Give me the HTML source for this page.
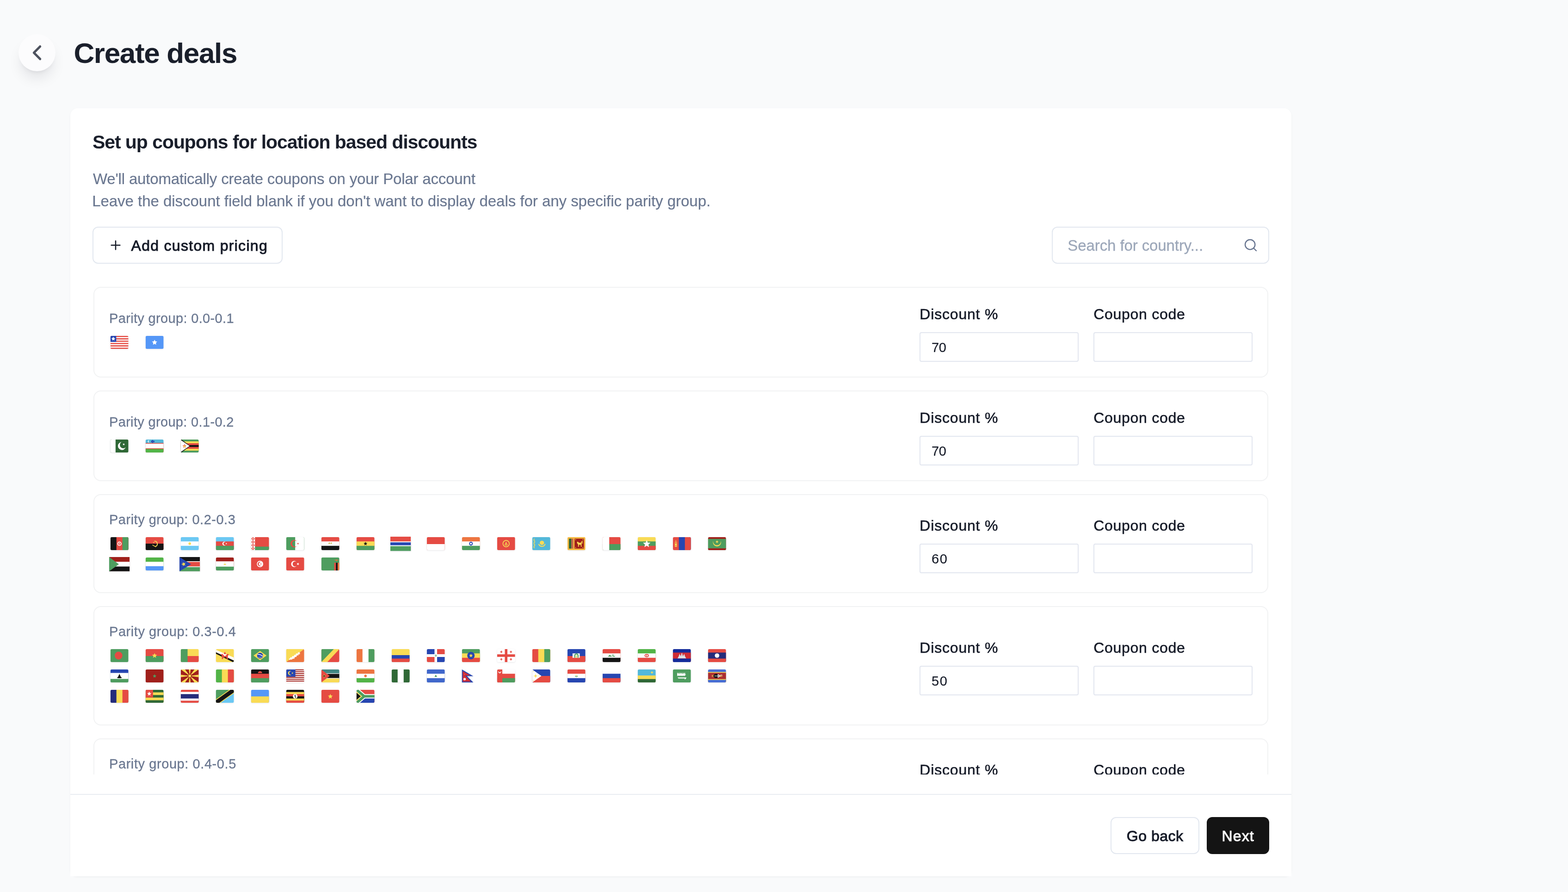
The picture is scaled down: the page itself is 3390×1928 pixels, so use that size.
<!DOCTYPE html>
<html lang="en">
<head>
<meta charset="utf-8">
<title>Create deals</title>
<style>
*{box-sizing:border-box}
html,body{margin:0;padding:0}
body{width:3390px;height:1928px;overflow:hidden;background:#f9fafb;font-family:"Liberation Sans", sans-serif;position:relative;color:#0f172a}
button{font:inherit;margin:0;padding:0;text-align:left;color:inherit;cursor:pointer}
.t{position:absolute;margin:0;white-space:nowrap;font-weight:400;display:block}
.abs{position:absolute}
.back{position:absolute;left:40px;top:74px;width:80px;height:80px;border-radius:50%;background:#fcfcfd;box-shadow:0 20px 30px -6px rgba(15,23,42,.10),0 8px 12px -8px rgba(15,23,42,.10)}
.back svg{position:absolute;left:0;top:0}
.card{position:absolute;left:152px;top:234px;width:2640px;height:1660px;background:#fff;border-radius:16px;box-shadow:0 2px 4px rgba(15,23,42,.045)}
.btn{position:absolute;height:80px;border:2px solid #e2e7ef;border-radius:12px;background:#fff}
.btn.dark{background:#141414;border-color:#141414}
.list{position:absolute;left:0;top:0;width:2640px;height:1440px;overflow:hidden}
.row{position:absolute;left:50px;width:2540px;border:2px solid #f1f2f3;border-radius:16px;background:#fff}
.inp{position:absolute;width:344px;height:64px;border:2px solid #e2e6ef;border-radius:4px;background:#fff}
.fl{position:absolute;filter:drop-shadow(0 1px 1.5px rgba(15,23,42,.1))}
.fl svg{position:absolute;width:44px;height:32px;overflow:visible}
.foot{position:absolute;left:0;top:1482px;width:2640px;height:178px;background:#fff;border-top:2px solid #e9edf2}
</style>
</head>
<body>
<svg width="0" height="0" style="position:absolute" aria-hidden="true"><defs><clipPath id="fc"><rect width="21" height="15" rx="1.6" ry="1.6"/></clipPath></defs></svg>
<header>
<a class="back" aria-label="Back"><svg width="80" height="80" viewBox="0 0 80 80" fill="none" stroke="#4d525e" stroke-width="5" stroke-linecap="round" stroke-linejoin="round"><path d="M46.7 26.5 33.3 40l13.4 13.5"/></svg></a>
<h1 class="t" style="left:159.42px;top:76.00px;font-size:62px;line-height:78px;letter-spacing:-1.337px;color:#1a1f2b;font-weight:700;">Create deals</h1>
</header>
<main class="card">
<h2 class="t" style="left:47.91px;top:48.00px;font-size:41px;line-height:51px;letter-spacing:-1.060px;color:#1a1f2b;font-weight:700;">Set up coupons for location based discounts</h2>
<p class="t" style="left:48.93px;top:132.00px;font-size:33px;line-height:41px;letter-spacing:-0.177px;color:#6a7790;-webkit-text-stroke:0.2px #6a7790;">We'll automatically create coupons on your Polar account</p>
<p class="t" style="left:47.16px;top:180.00px;font-size:33px;line-height:41px;letter-spacing:-0.031px;color:#6a7790;-webkit-text-stroke:0.2px #6a7790;">Leave the discount field blank if you don't want to display deals for any specific parity group.</p>
<button type="button" class="btn" style="left:48px;top:256px;width:411px"><svg class="abs" style="left:32px;top:22px" width="32" height="32" viewBox="0 0 24 24" fill="none" stroke="#161b28" stroke-width="1.9" stroke-linecap="round"><path d="M5 12h14M12 5v14"/></svg><span class="t" style="left:81.54px;top:19.00px;font-size:32px;line-height:40px;letter-spacing:1.296px;color:#161b28;-webkit-text-stroke:1.0px #161b28;">Add custom pricing</span></button>
<div class="btn" role="search" style="left:2122px;top:256px;width:470px"><span class="t" style="left:32.33px;top:18.00px;font-size:33px;line-height:41px;letter-spacing:-0.095px;color:#9ca7b9;-webkit-text-stroke:0.3px #9ca7b9;">Search for country...</span><svg class="abs" style="left:412px;top:22px" width="32" height="32" viewBox="0 0 24 24" fill="none" stroke="#687590" stroke-width="1.8" stroke-linecap="round" stroke-linejoin="round"><circle cx="11" cy="11" r="8"/><path d="m21 21-4.3-4.3"/></svg></div>
<div class="list">
<section class="row" style="top:386px;height:196px">
<span class="t" style="left:32.00px;top:48.00px;font-size:29px;line-height:36px;letter-spacing:0.338px;color:#6a7790;-webkit-text-stroke:0.3px #6a7790;">Parity group: 0.0-0.1</span>
<div class="fl" style="left:32px;top:103px"><svg style="left:0px;top:0px" viewBox="0 0 44 32" role="img" aria-label="LR"><g transform="translate(2.7 1) scale(1.8571 1.8667)" clip-path="url(#fc)"><path fill="#fff" d="M0 0h21v15h-21z"/><path fill="#e54b43" d="M0 0h21v1.36h-21zM0 2.73h21v1.36h-21zM0 5.45h21v1.36h-21zM0 8.18h21v1.36h-21zM0 10.91h21v1.36h-21zM0 13.64h21v1.36h-21z"/><path fill="#2646b1" d="M0 0h6.8v7h-6.8z"/><path fill="#fff" d="M3.4 1L4.11 2.43L5.68 2.66L4.54 3.77L4.81 5.34L3.4 4.6L1.99 5.34L2.26 3.77L1.12 2.66L2.69 2.43z"/></g></svg><svg style="left:76px;top:0px" viewBox="0 0 44 32" role="img" aria-label="SO"><g transform="translate(2.7 1) scale(1.8571 1.8667)" clip-path="url(#fc)"><path fill="#5597f7" d="M0 0h21v15h-21z"/><path fill="#fff" d="M10.5 4.4L11.44 6.31L13.54 6.61L12.02 8.09L12.38 10.19L10.5 9.2L8.62 10.19L8.98 8.09L7.46 6.61L9.56 6.31z"/></g></svg></div>
<label class="t" style="left:1784.36px;top:37.00px;font-size:32px;line-height:40px;letter-spacing:0.806px;color:#161b28;-webkit-text-stroke:0.6px #161b28;">Discount %</label><div class="inp" style="left:1784px;top:96px"><span class="t" style="left:24.00px;top:13.00px;font-size:29px;line-height:36px;letter-spacing:-0.283px;color:#161b28;-webkit-text-stroke:0.2px #161b28;">70</span></div><label class="t" style="left:2160.23px;top:37.00px;font-size:32px;line-height:40px;letter-spacing:0.717px;color:#161b28;-webkit-text-stroke:0.6px #161b28;">Coupon code</label><div class="inp" style="left:2160px;top:96px"></div>
</section>
<section class="row" style="top:610px;height:196px">
<span class="t" style="left:32.00px;top:48.00px;font-size:29px;line-height:36px;letter-spacing:0.330px;color:#6a7790;-webkit-text-stroke:0.3px #6a7790;">Parity group: 0.1-0.2</span>
<div class="fl" style="left:32px;top:103px"><svg style="left:0px;top:0px" viewBox="0 0 44 32" role="img" aria-label="PK"><g transform="translate(2.7 1) scale(1.8571 1.8667)" clip-path="url(#fc)"><path fill="#2f6836" d="M0 0h21v15h-21z"/><path fill="#fff" d="M0 0h6v15h-6z"/><path fill="#fff" d="M17.77 8.94A4.6 4.6 0 1 1 12.95 2.92A3.9 3.9 0 1 0 17.77 8.94z"/><path fill="#fff" d="M15.98 4.28L16.02 5.25L16.9 5.65L16 5.99L15.89 6.95L15.28 6.19L14.34 6.38L14.87 5.58L14.4 4.74L15.33 4.99z"/></g></svg><svg style="left:76px;top:0px" viewBox="0 0 44 32" role="img" aria-label="UZ"><g transform="translate(2.7 1) scale(1.8571 1.8667)" clip-path="url(#fc)"><path fill="#53b8d9" d="M0 0h21v15h-21z"/><path fill="#e54b43" d="M0 4h21v11h-21z"/><path fill="#fff" d="M0 4.8h21v10.2h-21z"/><path fill="#e54b43" d="M0 10.2h21v4.8h-21z"/><path fill="#52b447" d="M0 11h21v4h-21z"/><path fill="#fff" d="M4.59 3.3A1.3 1.3 0 1 1 4.59 1.1A1.1 1.1 0 1 0 4.59 3.3z"/><path fill="#2646b1" d="M6.1 2.3l1.2-1.2 1.2 1.2-1.2 1.2zM8.3 2.3l1.2-1.2 1.2 1.2-1.2 1.2zM7.2 1.2l.9-.8.9.8-.9.8zM7.2 3.4l.9-.8.9.8-.9.8z"/></g></svg><svg style="left:152px;top:0px" viewBox="0 0 44 32" role="img" aria-label="ZW"><g transform="translate(2.7 1) scale(1.8571 1.8667)" clip-path="url(#fc)"><path fill="#4e9d5f" d="M0 0h21v15h-21z"/><path fill="#f9db55" d="M0 2.14h21v10.72h-21z"/><path fill="#e54b43" d="M0 4.29h21v6.42h-21z"/><path fill="#151515" d="M0 6.43h21v2.14h-21z"/><path fill="#151515" d="M0 0L.8 0L11.2 7.5L.8 15L0 15z"/><path fill="#fff" d="M0 .6L0 14.4L10.3 7.5z"/><path fill="#e54b43" d="M4.4 5.1L5.06 6.69L6.78 6.83L5.47 7.95L5.87 9.62L4.4 8.72L2.93 9.62L3.33 7.95L2.02 6.83L3.74 6.69z"/><circle cx="4.4" cy="7.9" r="1.1" fill="#f9db55"/></g></svg></div>
<label class="t" style="left:1784.36px;top:37.00px;font-size:32px;line-height:40px;letter-spacing:0.806px;color:#161b28;-webkit-text-stroke:0.6px #161b28;">Discount %</label><div class="inp" style="left:1784px;top:96px"><span class="t" style="left:24.00px;top:13.00px;font-size:29px;line-height:36px;letter-spacing:-0.283px;color:#161b28;-webkit-text-stroke:0.2px #161b28;">70</span></div><label class="t" style="left:2160.23px;top:37.00px;font-size:32px;line-height:40px;letter-spacing:0.717px;color:#161b28;-webkit-text-stroke:0.6px #161b28;">Coupon code</label><div class="inp" style="left:2160px;top:96px"></div>
</section>
<section class="row" style="top:834px;height:214px">
<span class="t" style="left:32.00px;top:35.00px;font-size:29px;line-height:36px;letter-spacing:0.501px;color:#6a7790;-webkit-text-stroke:0.3px #6a7790;">Parity group: 0.2-0.3</span>
<div class="fl" style="left:32px;top:90px"><svg style="left:0px;top:0px" viewBox="0 0 44 32" role="img" aria-label="AF"><g transform="translate(2.7 1) scale(1.8571 1.8667)" clip-path="url(#fc)"><path fill="#151515" d="M0 0h21v15h-21z"/><path fill="#e54b43" d="M7 0h14v15h-14z"/><path fill="#4e9d5f" d="M14 0h7v15h-7z"/><circle cx="10.5" cy="7.6" r="2" fill="none" stroke="#fff" stroke-width=".9"/><path fill="#fff" d="M10.1 6.6h.8v2h-.8z"/></g></svg><svg style="left:76px;top:0px" viewBox="0 0 44 32" role="img" aria-label="AO"><g transform="translate(2.7 1) scale(1.8571 1.8667)" clip-path="url(#fc)"><path fill="#e54b43" d="M0 0h21v15h-21z"/><path fill="#151515" d="M0 7.5h21v7.5h-21z"/><path fill="none" stroke="#f9db55" stroke-width="1" d="M10.6 4.6a3.2 3.2 0 0 1 1 6.2" stroke-linecap="round"/><path fill="none" stroke="#f9db55" stroke-width=".8" d="M8.2 9.2l3.6 2" stroke-linecap="round"/><path fill="#f9db55" d="M9.6 5.3L9.84 5.87L10.46 5.92L9.99 6.33L10.13 6.93L9.6 6.61L9.07 6.93L9.21 6.33L8.74 5.92L9.36 5.87z"/></g></svg><svg style="left:152px;top:0px" viewBox="0 0 44 32" role="img" aria-label="AR"><g transform="translate(2.7 1) scale(1.8571 1.8667)" clip-path="url(#fc)"><path fill="#6bc8f3" d="M0 0h21v15h-21z"/><path fill="#fff" d="M0 5h21v10h-21z"/><path fill="#6bc8f3" d="M0 10h21v5h-21z"/><circle cx="10.5" cy="7.5" r="1.5" fill="#f9db55"/></g></svg><svg style="left:228px;top:0px" viewBox="0 0 44 32" role="img" aria-label="AZ"><g transform="translate(2.7 1) scale(1.8571 1.8667)" clip-path="url(#fc)"><path fill="#6bc8f3" d="M0 0h21v15h-21z"/><path fill="#e54b43" d="M0 5h21v10h-21z"/><path fill="#4e9d5f" d="M0 10h21v5h-21z"/><path fill="#fff" d="M11.58 9.07A2.3 2.3 0 1 1 11.58 5.93A1.8 1.8 0 1 0 11.58 9.07z"/><path fill="#fff" d="M12.51 6.55L12.56 7.24L13.2 7.5L12.56 7.76L12.51 8.45L12.06 7.93L11.39 8.09L11.75 7.5L11.39 6.91L12.06 7.07z"/></g></svg><svg style="left:304px;top:0px" viewBox="0 0 44 32" role="img" aria-label="BY"><g transform="translate(2.7 1) scale(1.8571 1.8667)" clip-path="url(#fc)"><path fill="#e54b43" d="M0 0h21v15h-21z"/><path fill="#4e9d5f" d="M0 11h21v4h-21z"/><path fill="#fff" d="M0 0h4.6v15h-4.6z"/><path fill="#e54b43" d="M2.3 0l2.1 1.9-2.1 1.9L.2 1.9zM2.3 3.75l2.1 1.9-2.1 1.9L.2 5.65zM2.3 7.5l2.1 1.9-2.1 1.9L.2 9.4zM2.3 11.25l2.1 1.9-2.1 1.9L.2 13.15z"/><path fill="#fff" d="M2.3 1.1l.9.8-.9.8-.9-.8zM2.3 4.85l.9.8-.9.8-.9-.8zM2.3 8.6l.9.8-.9.8-.9-.8zM2.3 12.35l.9.8-.9.8-.9-.8z"/></g></svg><svg style="left:380px;top:0px" viewBox="0 0 44 32" role="img" aria-label="DZ"><g transform="translate(2.7 1) scale(1.8571 1.8667)" clip-path="url(#fc)"><path fill="#4e9d5f" d="M0 0h21v15h-21z"/><path fill="#fff" d="M10.5 0h10.5v15h-10.5z"/><path fill="#e54b43" d="M12.69 10.15A4.3 4.3 0 1 1 12.69 4.85A3.5 3.5 0 1 0 12.69 10.15z"/><path fill="#e54b43" d="M14.17 6.36L14.24 7.18L15 7.5L14.24 7.82L14.17 8.64L13.63 8.01L12.83 8.21L13.26 7.5L12.83 6.79L13.63 6.99z"/></g></svg><svg style="left:456px;top:0px" viewBox="0 0 44 32" role="img" aria-label="EG"><g transform="translate(2.7 1) scale(1.8571 1.8667)" clip-path="url(#fc)"><path fill="#e54b43" d="M0 0h21v15h-21z"/><path fill="#fff" d="M0 5h21v10h-21z"/><path fill="#151515" d="M0 10h21v5h-21z"/><path fill="#c9b14b" d="M8.5 6.3h1.2l.8.6.8-.6h1.2l-.5 1.9H12l-.6-.8h-1.8l-.6.8h-.5z"/></g></svg><svg style="left:532px;top:0px" viewBox="0 0 44 32" role="img" aria-label="GH"><g transform="translate(2.7 1) scale(1.8571 1.8667)" clip-path="url(#fc)"><path fill="#e54b43" d="M0 0h21v15h-21z"/><path fill="#f9db55" d="M0 5h21v10h-21z"/><path fill="#4e9d5f" d="M0 10h21v5h-21z"/><path fill="#151515" d="M10.5 5.3L11.11 6.76L12.69 6.89L11.48 7.92L11.85 9.46L10.5 8.63L9.15 9.46L9.52 7.92L8.31 6.89L9.89 6.76z"/></g></svg><svg style="left:608px;top:0px" viewBox="0 0 44 32" role="img" aria-label="GM"><g transform="scale(2.1 2.05)"><path fill="#e54b43" d="M0 0h21v15h-21z"/><path fill="#fff" d="M0 5h21v10h-21z"/><path fill="#2646b1" d="M0 6h21v9h-21z"/><path fill="#fff" d="M0 9h21v6h-21z"/><path fill="#4e9d5f" d="M0 10h21v5h-21z"/></g></svg><svg style="left:684px;top:0px" viewBox="0 0 44 32" role="img" aria-label="ID"><g transform="translate(2.7 1) scale(1.8571 1.8667)" clip-path="url(#fc)"><path fill="#e54b43" d="M0 0h21v15h-21z"/><path fill="#fff" d="M0 8h21v7h-21z"/></g></svg><svg style="left:760px;top:0px" viewBox="0 0 44 32" role="img" aria-label="IN"><g transform="translate(2.7 1) scale(1.8571 1.8667)" clip-path="url(#fc)"><path fill="#ed7540" d="M0 0h21v15h-21z"/><path fill="#fff" d="M0 5h21v10h-21z"/><path fill="#4e9d5f" d="M0 10h21v5h-21z"/><circle cx="10.5" cy="7.5" r="1.6" fill="none" stroke="#2646b1" stroke-width="1"/></g></svg><svg style="left:836px;top:0px" viewBox="0 0 44 32" role="img" aria-label="KG"><g transform="translate(2.7 1) scale(1.8571 1.8667)" clip-path="url(#fc)"><path fill="#e54b43" d="M0 0h21v15h-21z"/><circle cx="10.5" cy="7.5" r="3.7" fill="none" stroke="#f9db55" stroke-width=".9"/><path fill="#f9db55" d="M10.5 5.4l1.7 3.4a2 2 0 0 1-3.4 0z"/><circle cx="10.5" cy="8.3" r=".7" fill="#e54b43"/></g></svg><svg style="left:912px;top:0px" viewBox="0 0 44 32" role="img" aria-label="KZ"><g transform="translate(2.7 1) scale(1.8571 1.8667)" clip-path="url(#fc)"><path fill="#53b8d9" d="M0 0h21v15h-21z"/><circle cx="11.3" cy="6.6" r="2.5" fill="#f9db55"/><path fill="none" stroke="#f9db55" stroke-width="1.1" d="M7.7 8.3a3.9 3.9 0 0 0 7.2 0" stroke-linecap="round"/><path fill="none" stroke="#f9db55" stroke-width=".7" d="M2.9 2.2H1.9v2h1v2h-1v2h1v2h-1v2h1"/></g></svg><svg style="left:988px;top:0px" viewBox="0 0 44 32" role="img" aria-label="LK"><g transform="translate(2.7 1) scale(1.8571 1.8667)" clip-path="url(#fc)"><path fill="#f6b940" d="M0 0h21v15h-21z"/><path fill="#2f6836" d="M1.8 1.7h2.7v11.6h-2.7z"/><path fill="#c0674a" d="M4.5 1.7h2.4v11.6h-2.4z"/><path fill="#a0201b" d="M8.3 1.7h11v11.6h-11z"/><path fill="#f9db55" d="M11.300 5.300h1.200l.8 1.100h2.600l.4-1.800.7.300-.3 2.300-.3.800.2 3.200h-.8l-.3-2.400h-2l-.2 2.400h-.8l-.1-2.900-1.200-1.400zM17.200 4.300h.6v3.200h-.6z"/><path fill="#f9db55" d="M9.1 2.5h.9v.9h-.9zM17.6 2.5h.9v.9h-.9zM9.1 11.6h.9v.9h-.9zM17.6 11.6h.9v.9h-.9z"/></g></svg><svg style="left:1064px;top:0px" viewBox="0 0 44 32" role="img" aria-label="MG"><g transform="translate(2.7 1) scale(1.8571 1.8667)" clip-path="url(#fc)"><path fill="#e54b43" d="M0 0h21v15h-21z"/><path fill="#4e9d5f" d="M0 8h21v7h-21z"/><path fill="#fff" d="M0 0h7.8v15h-7.8z"/></g></svg><svg style="left:1140px;top:0px" viewBox="0 0 44 32" role="img" aria-label="MM"><g transform="translate(2.7 1) scale(1.8571 1.8667)" clip-path="url(#fc)"><path fill="#f9db55" d="M0 0h21v15h-21z"/><path fill="#4e9d5f" d="M0 5h21v10h-21z"/><path fill="#e54b43" d="M0 10h21v5h-21z"/><path fill="#fff" d="M10.5 3.3L11.72 6.23L14.87 6.48L12.47 8.54L13.2 11.62L10.5 9.97L7.8 11.62L8.53 8.54L6.13 6.48L9.28 6.23z"/></g></svg><svg style="left:1216px;top:0px" viewBox="0 0 44 32" role="img" aria-label="MN"><g transform="translate(2.7 1) scale(1.8571 1.8667)" clip-path="url(#fc)"><path fill="#e54b43" d="M0 0h21v15h-21z"/><path fill="#2646b1" d="M7 0h14v15h-14z"/><path fill="#e54b43" d="M14 0h7v15h-7z"/><path fill="#f9db55" d="M3.5 3.3l.7 1.2H2.8zM2.3 5.3h2.4v.9H2.3zM2.3 6.7h.8v4.6h-.8zM3.9 6.7h.8v4.6h-.8zM2.3 10.4h2.4v.9H2.3zM3.1 7.6h.8v1.8h-.8z"/></g></svg><svg style="left:1292px;top:0px" viewBox="0 0 44 32" role="img" aria-label="MR"><g transform="translate(2.7 1) scale(1.8571 1.8667)" clip-path="url(#fc)"><path fill="#a0201b" d="M0 0h21v15h-21z"/><path fill="#4e9d5f" d="M0 2h21v13h-21z"/><path fill="#a0201b" d="M0 13h21v2h-21z"/><path fill="#f9db55" d="M14.99 4.61A4.7 4.7 0 1 1 6.01 4.61A4.5 4.5 0 1 0 14.99 4.61z"/><path fill="#f9db55" d="M10.5 3.6L10.98 4.74L12.21 4.84L11.27 5.65L11.56 6.86L10.5 6.21L9.44 6.86L9.73 5.65L8.79 4.84L10.02 4.74z"/></g></svg><svg style="left:0px;top:44px" viewBox="0 0 44 32" role="img" aria-label="SD"><g transform="scale(2.1 2.05)"><path fill="#a0201b" d="M0 0h21v15h-21z"/><path fill="#fff" d="M0 5h21v10h-21z"/><path fill="#151515" d="M0 10h21v5h-21z"/><path fill="#4e9d5f" d="M0 0L10 7.5L0 15z"/></g></svg><svg style="left:76px;top:44px" viewBox="0 0 44 32" role="img" aria-label="SL"><g transform="translate(2.7 1) scale(1.8571 1.8667)" clip-path="url(#fc)"><path fill="#52b447" d="M0 0h21v15h-21z"/><path fill="#fff" d="M0 5h21v10h-21z"/><path fill="#5597f7" d="M0 10h21v5h-21z"/></g></svg><svg style="left:152px;top:44px" viewBox="0 0 44 32" role="img" aria-label="SS"><g transform="scale(2.1 2.05)"><path fill="#151515" d="M0 0h21v15h-21z"/><path fill="#fff" d="M0 4.4h21v10.6h-21z"/><path fill="#e54b43" d="M0 5.1h21v9.9h-21z"/><path fill="#fff" d="M0 9.9h21v5.1h-21z"/><path fill="#4e9d5f" d="M0 10.6h21v4.4h-21z"/><path fill="#2646b1" d="M0 0L12 7.5L0 15z"/><path fill="#f9db55" d="M3.59 5.31L4.62 6.52L6.16 6.15L5.33 7.5L6.16 8.85L4.62 8.48L3.59 9.69L3.46 8.11L2 7.5L3.46 6.89z"/></g></svg><svg style="left:228px;top:44px" viewBox="0 0 44 32" role="img" aria-label="TJ"><g transform="translate(2.7 1) scale(1.8571 1.8667)" clip-path="url(#fc)"><path fill="#a0201b" d="M0 0h21v15h-21z"/><path fill="#fff" d="M0 4.4h21v10.6h-21z"/><path fill="#4e9d5f" d="M0 10.6h21v4.4h-21z"/><path fill="#f9db55" d="M9.3 8.6h2.4l.3-1.3-.8.5-.7-1.1-.7 1.1-.8-.5z"/><circle cx="10.5" cy="5.9" r=".4" fill="#f9db55"/></g></svg><svg style="left:304px;top:44px" viewBox="0 0 44 32" role="img" aria-label="TN"><g transform="translate(2.7 1) scale(1.8571 1.8667)" clip-path="url(#fc)"><path fill="#e54b43" d="M0 0h21v15h-21z"/><circle cx="10.5" cy="7.5" r="3.7" fill="#fff"/><path fill="#e54b43" d="M12.43 9A2.6 2.6 0 1 1 12.43 6A2 2 0 1 0 12.43 9z"/><path fill="#e54b43" d="M11.81 6.55L11.86 7.24L12.5 7.5L11.86 7.76L11.81 8.45L11.36 7.93L10.69 8.09L11.05 7.5L10.69 6.91L11.36 7.07z"/></g></svg><svg style="left:380px;top:44px" viewBox="0 0 44 32" role="img" aria-label="TR"><g transform="translate(2.7 1) scale(1.8571 1.8667)" clip-path="url(#fc)"><path fill="#e54b43" d="M0 0h21v15h-21z"/><path fill="#fff" d="M12.18 9.79A3.6 3.6 0 1 1 12.18 5.21A2.9 2.9 0 1 0 12.18 9.79z"/><path fill="#fff" d="M14.23 5.88L14.32 7.05L15.4 7.5L14.32 7.95L14.23 9.12L13.46 8.23L12.32 8.5L12.93 7.5L12.32 6.5L13.46 6.77z"/></g></svg><svg style="left:456px;top:44px" viewBox="0 0 44 32" role="img" aria-label="ZM"><g transform="translate(2.7 1) scale(1.8571 1.8667)" clip-path="url(#fc)"><path fill="#4e9d5f" d="M0 0h21v15h-21z"/><path fill="#e54b43" d="M15 6h2v9h-2z"/><path fill="#151515" d="M17 6h2v9h-2z"/><path fill="#ed7540" d="M19 6h2v9h-2z"/><path fill="#ed7540" d="M14.6 3l2.4-.3.6-.6.6.6 2.4.3-2.4.5-.6.7-.6-.7z"/></g></svg></div>
<label class="t" style="left:1784.36px;top:46.00px;font-size:32px;line-height:40px;letter-spacing:0.806px;color:#161b28;-webkit-text-stroke:0.6px #161b28;">Discount %</label><div class="inp" style="left:1784px;top:105px"><span class="t" style="left:24.00px;top:13.00px;font-size:29px;line-height:36px;letter-spacing:1.717px;color:#161b28;-webkit-text-stroke:0.2px #161b28;">60</span></div><label class="t" style="left:2160.23px;top:46.00px;font-size:32px;line-height:40px;letter-spacing:0.717px;color:#161b28;-webkit-text-stroke:0.6px #161b28;">Coupon code</label><div class="inp" style="left:2160px;top:105px"></div>
</section>
<section class="row" style="top:1076px;height:258px">
<span class="t" style="left:32.00px;top:35.00px;font-size:29px;line-height:36px;letter-spacing:0.559px;color:#6a7790;-webkit-text-stroke:0.3px #6a7790;">Parity group: 0.3-0.4</span>
<div class="fl" style="left:32px;top:90px"><svg style="left:0px;top:0px" viewBox="0 0 44 32" role="img" aria-label="BD"><g transform="translate(2.7 1) scale(1.8571 1.8667)" clip-path="url(#fc)"><path fill="#4e9d5f" d="M0 0h21v15h-21z"/><circle cx="9.5" cy="7.5" r="4.5" fill="#e54b43"/></g></svg><svg style="left:76px;top:0px" viewBox="0 0 44 32" role="img" aria-label="BF"><g transform="translate(2.7 1) scale(1.8571 1.8667)" clip-path="url(#fc)"><path fill="#e54b43" d="M0 0h21v15h-21z"/><path fill="#4e9d5f" d="M0 8h21v7h-21z"/><path fill="#f9db55" d="M10.5 4.5L11.32 6.47L13.45 6.64L11.83 8.03L12.32 10.11L10.5 8.99L8.68 10.11L9.17 8.03L7.55 6.64L9.68 6.47z"/></g></svg><svg style="left:152px;top:0px" viewBox="0 0 44 32" role="img" aria-label="BJ"><g transform="translate(2.7 1) scale(1.8571 1.8667)" clip-path="url(#fc)"><path fill="#f9db55" d="M0 0h21v15h-21z"/><path fill="#e54b43" d="M0 8h21v7h-21z"/><path fill="#4e9d5f" d="M0 0h8v15h-8z"/></g></svg><svg style="left:228px;top:0px" viewBox="0 0 44 32" role="img" aria-label="BN"><g transform="translate(2.7 1) scale(1.8571 1.8667)" clip-path="url(#fc)"><path fill="#f9db55" d="M0 0h21v15h-21z"/><path fill="#fff" d="M0 .8L21 9.8L21 13.2L0 3.6z"/><path fill="#151515" d="M0 3.6L21 13.2L21 15.6L0 5.3z"/><path fill="#e54b43" d="M10.5 3l1.5 2.7H9zM5.9 6.2l1.7-.9.9 1.3 2 1.4 2-1.4.9-1.3 1.7.9-1.1 1.7.1 3.6h-1.5l-.3-2.1H8.7l-.3 2.1H6.9l.1-3.6z"/><path fill="#fff" d="M9 6.1h3l-.4 1.2-1.1.8-1.1-.8z"/></g></svg><svg style="left:304px;top:0px" viewBox="0 0 44 32" role="img" aria-label="BR"><g transform="translate(2.7 1) scale(1.8571 1.8667)" clip-path="url(#fc)"><path fill="#4e9d5f" d="M0 0h21v15h-21z"/><path fill="#f9db55" d="M2.9 7.5L10.5 2.1L18.1 7.5L10.5 12.9z"/><circle cx="10.5" cy="7.5" r="3.4" fill="#2646b1"/><path fill="none" stroke="#fff" stroke-width=".9" d="M7.6 6.2q3.2-.4 5.9 2"/><path fill="#fff" d="M9 9h.9v.9H9zM11 9h.9v.9H11z"/></g></svg><svg style="left:380px;top:0px" viewBox="0 0 44 32" role="img" aria-label="BT"><g transform="translate(2.7 1) scale(1.8571 1.8667)" clip-path="url(#fc)"><path fill="#ed7540" d="M0 0h21v15h-21z"/><path fill="#f9db55" d="M0 0L21 0L0 15z"/><path fill="#fff" d="M3.2 11.1l1.2-.3.6-1.4 1.6.3.5-1.6 1.9.1.3-1.5 1.8-.1.4-1.6 1.9.2.3-1.4 2.6-.2-.9 1.3 1.2.2-1.3 1-1.5.1.9.9-2 .3-.9.9.7.6-2.4.5-.6 1 .5.6-2.5.3-.9.9-1.9-.2-.8.8z"/></g></svg><svg style="left:456px;top:0px" viewBox="0 0 44 32" role="img" aria-label="CG"><g transform="translate(2.7 1) scale(1.8571 1.8667)" clip-path="url(#fc)"><path fill="#e54b43" d="M0 0h21v15h-21z"/><path fill="#f9db55" d="M0 0L21 0L7 15L0 15z"/><path fill="#4e9d5f" d="M0 0L14.5 0L0 15z"/></g></svg><svg style="left:532px;top:0px" viewBox="0 0 44 32" role="img" aria-label="CI"><g transform="translate(2.7 1) scale(1.8571 1.8667)" clip-path="url(#fc)"><path fill="#ed7540" d="M0 0h21v15h-21z"/><path fill="#fff" d="M7 0h14v15h-14z"/><path fill="#4e9d5f" d="M14 0h7v15h-7z"/></g></svg><svg style="left:608px;top:0px" viewBox="0 0 44 32" role="img" aria-label="CO"><g transform="translate(2.7 1) scale(1.8571 1.8667)" clip-path="url(#fc)"><path fill="#f9db55" d="M0 0h21v15h-21z"/><path fill="#2646b1" d="M0 7h21v8h-21z"/><path fill="#e54b43" d="M0 11h21v4h-21z"/></g></svg><svg style="left:684px;top:0px" viewBox="0 0 44 32" role="img" aria-label="DO"><g transform="translate(2.7 1) scale(1.8571 1.8667)" clip-path="url(#fc)"><path fill="#fff" d="M0 0h21v15h-21z"/><path fill="#2646b1" d="M0 0h9v5.9h-9z"/><path fill="#e54b43" d="M12 0h9v5.9h-9z"/><path fill="#e54b43" d="M0 9.1h9v5.9h-9z"/><path fill="#2646b1" d="M12 9.1h9v5.9h-9z"/><circle cx="10.5" cy="7.5" r=".8" fill="none" stroke="#4e9d5f" stroke-width=".6"/></g></svg><svg style="left:760px;top:0px" viewBox="0 0 44 32" role="img" aria-label="ET"><g transform="translate(2.7 1) scale(1.8571 1.8667)" clip-path="url(#fc)"><path fill="#4e9d5f" d="M0 0h21v15h-21z"/><path fill="#f9db55" d="M0 5h21v10h-21z"/><path fill="#e54b43" d="M0 10h21v5h-21z"/><circle cx="10.5" cy="7.5" r="4.3" fill="#2646b1"/><path fill="#f9db55" d="M10.5 5.3L11.11 6.76L12.69 6.89L11.48 7.92L11.85 9.46L10.5 8.63L9.15 9.46L9.52 7.92L8.31 6.89L9.89 6.76z"/></g></svg><svg style="left:836px;top:0px" viewBox="0 0 44 32" role="img" aria-label="GE"><g transform="translate(2.7 1) scale(1.8571 1.8667)" clip-path="url(#fc)"><path fill="#fff" d="M0 0h21v15h-21z"/><path fill="#e54b43" d="M9 0h3v15h-3z"/><path fill="#e54b43" d="M0 6h21v3h-21z"/><path fill="#e54b43" d="M4.45 1.9h.9v.85h.85v.9h-.85v.85h-.9v-.85h-.85v-.9h.85zM15.65 1.9h.9v.85h.85v.9h-.85v.85h-.9v-.85h-.85v-.9h.85zM4.45 10.5h.9v.85h.85v.9h-.85v.85h-.9v-.85h-.85v-.9h.85zM15.65 10.5h.9v.85h.85v.9h-.85v.85h-.9v-.85h-.85v-.9h.85z"/></g></svg><svg style="left:912px;top:0px" viewBox="0 0 44 32" role="img" aria-label="GN"><g transform="translate(2.7 1) scale(1.8571 1.8667)" clip-path="url(#fc)"><path fill="#e54b43" d="M0 0h21v15h-21z"/><path fill="#f9db55" d="M7 0h14v15h-14z"/><path fill="#4e9d5f" d="M14 0h7v15h-7z"/></g></svg><svg style="left:988px;top:0px" viewBox="0 0 44 32" role="img" aria-label="HT"><g transform="translate(2.7 1) scale(1.8571 1.8667)" clip-path="url(#fc)"><path fill="#2646b1" d="M0 0h21v15h-21z"/><path fill="#e54b43" d="M0 8h21v7h-21z"/><path fill="#fff" d="M6 5h8.4v5h-8.4z"/><path fill="#4e9d5f" d="M8 9.9V7.4a2.5 2.5 0 0 1 5 0v2.5h-1.2V7.5a1.3 1.3 0 0 0-2.6 0v2.4z"/><path fill="#f9db55" d="M9.9 7.2h1.2v2.7h-1.2z"/></g></svg><svg style="left:1064px;top:0px" viewBox="0 0 44 32" role="img" aria-label="IQ"><g transform="translate(2.7 1) scale(1.8571 1.8667)" clip-path="url(#fc)"><path fill="#e54b43" d="M0 0h21v15h-21z"/><path fill="#fff" d="M0 5h21v10h-21z"/><path fill="#151515" d="M0 10h21v5h-21z"/><path fill="#4e9d5f" d="M6.2 8.7l2.2-2.3 1.6 1.6.7-.7v1.4zM11.7 6h.9v1.9h2v.8h-2.9z"/></g></svg><svg style="left:1140px;top:0px" viewBox="0 0 44 32" role="img" aria-label="IR"><g transform="translate(2.7 1) scale(1.8571 1.8667)" clip-path="url(#fc)"><path fill="#52b447" d="M0 0h21v15h-21z"/><path fill="#fff" d="M0 5h21v10h-21z"/><path fill="#e54b43" d="M0 10h21v5h-21z"/><ellipse cx="10.5" cy="7.5" rx="2.1" ry="1.4" fill="none" stroke="#e54b43" stroke-width=".9"/><path fill="#e54b43" d="M10.15 6.1h.7v2.8h-.7z"/></g></svg><svg style="left:1216px;top:0px" viewBox="0 0 44 32" role="img" aria-label="KH"><g transform="translate(2.7 1) scale(1.8571 1.8667)" clip-path="url(#fc)"><path fill="#132b9b" d="M0 0h21v15h-21z"/><path fill="#cf2d35" d="M0 4h21v11h-21z"/><path fill="#132b9b" d="M0 11h21v4h-21z"/><path fill="#dcdfe5" d="M5.5 10.7l1.3-2.3.5-1.6.6-1.5.6 1.5.4 1 .7-.3.3-1.9.6-1.4.6 1.4.3 1.9.7.3.4-1 .6-1.5.6 1.5.5 1.6 1.3 2.3z"/></g></svg><svg style="left:1292px;top:0px" viewBox="0 0 44 32" role="img" aria-label="LA"><g transform="translate(2.7 1) scale(1.8571 1.8667)" clip-path="url(#fc)"><path fill="#e54b43" d="M0 0h21v15h-21z"/><path fill="#252c7b" d="M0 4h21v11h-21z"/><path fill="#e54b43" d="M0 11h21v4h-21z"/><circle cx="10.5" cy="7.5" r="2.6" fill="#fff"/></g></svg><svg style="left:0px;top:44px" viewBox="0 0 44 32" role="img" aria-label="LS"><g transform="translate(2.7 1) scale(1.8571 1.8667)" clip-path="url(#fc)"><path fill="#2646b1" d="M0 0h21v15h-21z"/><path fill="#fff" d="M0 4h21v11h-21z"/><path fill="#4e9d5f" d="M0 11h21v4h-21z"/><path fill="#151515" d="M10.5 4.9l.5 1.3 1.3 2.6.9.4v.6l-1.4.4h-2.6l-1.4-.4v-.6l.9-.4 1.3-2.6z"/></g></svg><svg style="left:76px;top:44px" viewBox="0 0 44 32" role="img" aria-label="MA"><g transform="translate(2.7 1) scale(1.8571 1.8667)" clip-path="url(#fc)"><path fill="#a0201b" d="M0 0h21v15h-21z"/><path fill="#4e9d5f" d="M10.5 5.4L11.11 6.86L12.69 6.99L11.48 8.02L11.85 9.56L10.5 8.73L9.15 9.56L9.52 8.02L8.31 6.99L9.89 6.86z"/></g></svg><svg style="left:152px;top:44px" viewBox="0 0 44 32" role="img" aria-label="MK"><g transform="translate(2.7 1) scale(1.8571 1.8667)" clip-path="url(#fc)"><path fill="#a0201b" d="M0 0h21v15h-21z"/><path fill="#f9db55" d="M10.5 7.5L30.31 4.72L30.31 10.28zM10.5 7.5L26.68 19.26L22.26 23.68zM10.5 7.5L13.28 27.31L7.72 27.31zM10.5 7.5L-1.26 23.68L-5.68 19.26zM10.5 7.5L-9.31 10.28L-9.31 4.72zM10.5 7.5L-5.68 -4.26L-1.26 -8.68zM10.5 7.5L7.72 -12.31L13.28 -12.31zM10.5 7.5L22.26 -8.68L26.68 -4.26z"/><circle cx="10.5" cy="7.5" r="2.3" fill="#a0201b"/><circle cx="10.5" cy="7.5" r="1.6" fill="#f9db55"/></g></svg><svg style="left:228px;top:44px" viewBox="0 0 44 32" role="img" aria-label="ML"><g transform="translate(2.7 1) scale(1.8571 1.8667)" clip-path="url(#fc)"><path fill="#52b447" d="M0 0h21v15h-21z"/><path fill="#f9db55" d="M7 0h14v15h-14z"/><path fill="#e54b43" d="M14 0h7v15h-7z"/></g></svg><svg style="left:304px;top:44px" viewBox="0 0 44 32" role="img" aria-label="MW"><g transform="translate(2.7 1) scale(1.8571 1.8667)" clip-path="url(#fc)"><path fill="#151515" d="M0 0h21v15h-21z"/><path fill="#e54b43" d="M0 5h21v10h-21z"/><path fill="#4e9d5f" d="M0 10h21v5h-21z"/><path fill="#e54b43" d="M8 4.3a2.5 2.3 0 0 1 5 0z"/></g></svg><svg style="left:380px;top:44px" viewBox="0 0 44 32" role="img" aria-label="MY"><g transform="translate(2.7 1) scale(1.8571 1.8667)" clip-path="url(#fc)"><path fill="#fff" d="M0 0h21v15h-21z"/><path fill="#a0201b" d="M0 0h21v1.07h-21zM0 2.14h21v1.07h-21zM0 4.29h21v1.07h-21zM0 6.43h21v1.07h-21zM0 8.57h21v1.07h-21zM0 10.71h21v1.07h-21zM0 12.86h21v1.07h-21z"/><path fill="#2646b1" d="M0 0h10.8v8.5h-10.8z"/><path fill="#f9db55" d="M6.03 6.13A2.4 2.4 0 1 1 6.03 2.27A2 2 0 1 0 6.03 6.13z"/><path fill="#f9db55" d="M7.64 3.15L7.7 3.91L8.4 4.2L7.7 4.49L7.64 5.25L7.15 4.67L6.41 4.85L6.8 4.2L6.41 3.55L7.15 3.73z"/></g></svg><svg style="left:456px;top:44px" viewBox="0 0 44 32" role="img" aria-label="MZ"><g transform="translate(2.7 1) scale(1.8571 1.8667)" clip-path="url(#fc)"><path fill="#408782" d="M0 0h21v15h-21z"/><path fill="#fff" d="M0 4.4h21v10.6h-21z"/><path fill="#151515" d="M0 5.1h21v9.9h-21z"/><path fill="#fff" d="M0 9.9h21v5.1h-21z"/><path fill="#f9db55" d="M0 10.6h21v4.4h-21z"/><path fill="#e54b43" d="M0 0L9.8 7.5L0 15z"/><path fill="#f9db55" d="M3.3 5.5L3.83 6.77L5.2 6.88L4.16 7.78L4.48 9.12L3.3 8.4L2.12 9.12L2.44 7.78L1.4 6.88L2.77 6.77z"/><path fill="none" stroke="#151515" stroke-width=".6" d="M2.3 6.6l2 1.9M4.3 6.6l-2 1.9"/></g></svg><svg style="left:532px;top:44px" viewBox="0 0 44 32" role="img" aria-label="NE"><g transform="translate(2.7 1) scale(1.8571 1.8667)" clip-path="url(#fc)"><path fill="#ed7540" d="M0 0h21v15h-21z"/><path fill="#fff" d="M0 5h21v10h-21z"/><path fill="#52b447" d="M0 10h21v5h-21z"/><circle cx="10.5" cy="7.5" r="1.5" fill="#ed7540"/></g></svg><svg style="left:608px;top:44px" viewBox="0 0 44 32" role="img" aria-label="NG"><g transform="translate(2.7 1) scale(1.8571 1.8667)" clip-path="url(#fc)"><path fill="#2f6836" d="M0 0h21v15h-21z"/><path fill="#fff" d="M7 0h14v15h-14z"/><path fill="#2f6836" d="M14 0h7v15h-7z"/></g></svg><svg style="left:684px;top:44px" viewBox="0 0 44 32" role="img" aria-label="NI"><g transform="translate(2.7 1) scale(1.8571 1.8667)" clip-path="url(#fc)"><path fill="#4067cb" d="M0 0h21v15h-21z"/><path fill="#fff" d="M0 5h21v10h-21z"/><path fill="#4067cb" d="M0 10h21v5h-21z"/><path fill="#4e9d5f" d="M10.5 6L12 8.6L9 8.6z"/></g></svg><svg style="left:760px;top:44px" viewBox="0 0 44 32" role="img" aria-label="NP"><g transform="translate(2.7 1)"><path fill="#2646b1" d="M0 0L24.6 14.6L11 14.6L24.6 28L0 28z"/><path fill="#cf2d35" d="M1.8 3.6L18.2 12.9L7 12.9L19.4 26.2L1.8 26.2z"/><path fill="#fff" d="M7.76 7.41A2.3 2.3 0 1 1 3.44 7.41A2.2 2.2 0 1 0 7.76 7.41z"/><circle cx="5.8" cy="20.8" r="2.6" fill="#fff"/></g></svg><svg style="left:836px;top:44px" viewBox="0 0 44 32" role="img" aria-label="OM"><g transform="translate(2.7 1) scale(1.8571 1.8667)" clip-path="url(#fc)"><path fill="#fff" d="M0 0h21v15h-21z"/><path fill="#e54b43" d="M0 5h21v10h-21z"/><path fill="#4e9d5f" d="M0 10h21v5h-21z"/><path fill="#e54b43" d="M0 0h6.1v15h-6.1z"/><path fill="#fff" d="M4.36 1.72A1.6 1.6 0 1 1 1.84 1.72A1.3 1.3 0 1 0 4.36 1.72z"/></g></svg><svg style="left:912px;top:44px" viewBox="0 0 44 32" role="img" aria-label="PH"><g transform="translate(2.7 1) scale(1.8571 1.8667)" clip-path="url(#fc)"><path fill="#2646b1" d="M0 0h21v15h-21z"/><path fill="#e54b43" d="M0 7.5h21v7.5h-21z"/><path fill="#fff" d="M0 0L10.7 7.5L0 15z"/><circle cx="3.9" cy="7.5" r="1.1" fill="#f9db55"/><path fill="none" stroke="#f9db55" stroke-width=".5" d="M3.9 5.2v4.6M1.6 7.5h4.6"/><path fill="#f9db55" d="M.8 1.9h.8v.8H.8zM.8 12.3h.8v.8H.8zM7.4 7.1h.8v.8h-.8z"/></g></svg><svg style="left:988px;top:44px" viewBox="0 0 44 32" role="img" aria-label="PY"><g transform="translate(2.7 1) scale(1.8571 1.8667)" clip-path="url(#fc)"><path fill="#e54b43" d="M0 0h21v15h-21z"/><path fill="#fff" d="M0 5h21v10h-21z"/><path fill="#2646b1" d="M0 10h21v5h-21z"/><path fill="none" stroke="#4e9d5f" stroke-width=".7" d="M9.1 7.4a1.5 1.5 0 0 0 2.8 0"/><circle cx="10.5" cy="6.9" r=".6" fill="#f9db55"/></g></svg><svg style="left:1064px;top:44px" viewBox="0 0 44 32" role="img" aria-label="RU"><g transform="translate(2.7 1) scale(1.8571 1.8667)" clip-path="url(#fc)"><path fill="#fff" d="M0 0h21v15h-21z"/><path fill="#2646b1" d="M0 5h21v10h-21z"/><path fill="#e54b43" d="M0 10h21v5h-21z"/></g></svg><svg style="left:1140px;top:44px" viewBox="0 0 44 32" role="img" aria-label="RW"><g transform="translate(2.7 1) scale(1.8571 1.8667)" clip-path="url(#fc)"><path fill="#53b8d9" d="M0 0h21v15h-21z"/><path fill="#f9db55" d="M0 7h21v8h-21z"/><path fill="#2f6836" d="M0 11.1h21v3.9h-21z"/><circle cx="16.6" cy="3.5" r=".9" fill="#f9db55"/><path fill="none" stroke="#f9db55" stroke-width=".6" d="M16.6 2v3M15.1 3.5h3"/></g></svg><svg style="left:1216px;top:44px" viewBox="0 0 44 32" role="img" aria-label="SA"><g transform="translate(2.7 1) scale(1.8571 1.8667)" clip-path="url(#fc)"><path fill="#4e9d5f" d="M0 0h21v15h-21z"/><path fill="#fff" d="M5 3.9h.9v1h.8v-1h.9v1.3h.7V3.9h1v1h.7v-1h.9v1.3h.8V3.9h.9v1h.7v-1h1v1.6h.7v.8h-.7v.6H15V7h-.8v.6h-.9V7h-.8v.6h-.9V7h-.7v.6H9.900V7H9.100v.6H8.200V7h-.7v.6h-.9V7H5.800v.6H5z"/><path fill="#fff" d="M5.500 9.200h10.200v.6l-.5.8-1 .9-.7-.4.6-.7H6.500z"/></g></svg><svg style="left:1292px;top:44px" viewBox="0 0 44 32" role="img" aria-label="SZ"><g transform="translate(2.7 1) scale(1.8571 1.8667)" clip-path="url(#fc)"><path fill="#3b63d0" d="M0 0h21v15h-21z"/><path fill="#f9db55" d="M0 3h21v12h-21z"/><path fill="#ab2e32" d="M0 3.9h21v11.1h-21z"/><path fill="#f9db55" d="M0 11.1h21v3.9h-21z"/><path fill="#3b63d0" d="M0 12h21v3h-21z"/><path fill="#7fa0e8" d="M1 .7h.5v.5h-.5zM2.1 .7h.5v.5h-.5zM3.2 .7h.5v.5h-.5zM4.3 .7h.5v.5h-.5zM5.4 .7h.5v.5h-.5zM6.5 .7h.5v.5h-.5zM7.6 .7h.5v.5h-.5zM8.7 .7h.5v.5h-.5zM9.8 .7h.5v.5h-.5zM10.9 .7h.5v.5h-.5zM12 .7h.5v.5h-.5zM13.1 .7h.5v.5h-.5zM14.2 .7h.5v.5h-.5zM15.3 .7h.5v.5h-.5zM16.4 .7h.5v.5h-.5zM17.5 .7h.5v.5h-.5zM18.6 .7h.5v.5h-.5zM19.7 .7h.5v.5h-.5zM1.55 1.9h.5v.5h-.5zM2.65 1.9h.5v.5h-.5zM3.75 1.9h.5v.5h-.5zM4.85 1.9h.5v.5h-.5zM5.95 1.9h.5v.5h-.5zM7.05 1.9h.5v.5h-.5zM8.15 1.9h.5v.5h-.5zM9.25 1.9h.5v.5h-.5zM10.35 1.9h.5v.5h-.5zM11.45 1.9h.5v.5h-.5zM12.55 1.9h.5v.5h-.5zM13.65 1.9h.5v.5h-.5zM14.75 1.9h.5v.5h-.5zM15.85 1.9h.5v.5h-.5zM16.95 1.9h.5v.5h-.5zM18.05 1.9h.5v.5h-.5zM19.15 1.9h.5v.5h-.5zM20.25 1.9h.5v.5h-.5zM1 12.8h.5v.5h-.5zM2.1 12.8h.5v.5h-.5zM3.2 12.8h.5v.5h-.5zM4.3 12.8h.5v.5h-.5zM5.4 12.8h.5v.5h-.5zM6.5 12.8h.5v.5h-.5zM7.6 12.8h.5v.5h-.5zM8.7 12.8h.5v.5h-.5zM9.8 12.8h.5v.5h-.5zM10.9 12.8h.5v.5h-.5zM12 12.8h.5v.5h-.5zM13.1 12.8h.5v.5h-.5zM14.2 12.8h.5v.5h-.5zM15.3 12.8h.5v.5h-.5zM16.4 12.8h.5v.5h-.5zM17.5 12.8h.5v.5h-.5zM18.6 12.8h.5v.5h-.5zM19.7 12.8h.5v.5h-.5zM1.55 14h.5v.5h-.5zM2.65 14h.5v.5h-.5zM3.75 14h.5v.5h-.5zM4.85 14h.5v.5h-.5zM5.95 14h.5v.5h-.5zM7.05 14h.5v.5h-.5zM8.15 14h.5v.5h-.5zM9.25 14h.5v.5h-.5zM10.35 14h.5v.5h-.5zM11.45 14h.5v.5h-.5zM12.55 14h.5v.5h-.5zM13.65 14h.5v.5h-.5zM14.75 14h.5v.5h-.5zM15.85 14h.5v.5h-.5zM16.95 14h.5v.5h-.5zM18.05 14h.5v.5h-.5zM19.15 14h.5v.5h-.5zM20.25 14h.5v.5h-.5z"/><path fill="none" stroke="#f9db55" stroke-width=".55" d="M4.300 6.900h12.400M4.300 8.200h12.400"/><path fill="#d9d9d9" d="M14.6 6.100h2v.7h-2z"/><ellipse cx="9.600" cy="7.500" rx="3.300" ry="2.400" fill="#151515"/><path fill="#fff" d="M11.300 5.400l3.400 2.100-3.400 2.100z"/><circle cx="8.4" cy="7.5" r=".55" fill="#fff"/><circle cx="10.2" cy="7.5" r=".55" fill="#fff"/><circle cx="12.6" cy="7.5" r=".5" fill="#151515"/></g></svg><svg style="left:0px;top:88px" viewBox="0 0 44 32" role="img" aria-label="TD"><g transform="translate(2.7 1) scale(1.8571 1.8667)" clip-path="url(#fc)"><path fill="#252c7b" d="M0 0h21v15h-21z"/><path fill="#f9db55" d="M7 0h14v15h-14z"/><path fill="#e54b43" d="M14 0h7v15h-7z"/></g></svg><svg style="left:76px;top:88px" viewBox="0 0 44 32" role="img" aria-label="TG"><g transform="translate(2.7 1) scale(1.8571 1.8667)" clip-path="url(#fc)"><path fill="#2f6836" d="M0 0h21v15h-21z"/><path fill="#f9db55" d="M0 3h21v12h-21z"/><path fill="#2f6836" d="M0 6h21v9h-21z"/><path fill="#f9db55" d="M0 9h21v6h-21z"/><path fill="#2f6836" d="M0 12h21v3h-21z"/><path fill="#e54b43" d="M0 0h8.7v9h-8.7z"/><path fill="#fff" d="M4.3 2L4.99 3.65L6.77 3.8L5.41 4.96L5.83 6.7L4.3 5.77L2.77 6.7L3.19 4.96L1.83 3.8L3.61 3.65z"/></g></svg><svg style="left:152px;top:88px" viewBox="0 0 44 32" role="img" aria-label="TH"><g transform="translate(2.7 1) scale(1.8571 1.8667)" clip-path="url(#fc)"><path fill="#e54b43" d="M0 0h21v15h-21z"/><path fill="#fff" d="M0 2.4h21v12.6h-21z"/><path fill="#252c7b" d="M0 4.9h21v10.1h-21z"/><path fill="#fff" d="M0 10.1h21v4.9h-21z"/><path fill="#e54b43" d="M0 12.6h21v2.4h-21z"/></g></svg><svg style="left:228px;top:88px" viewBox="0 0 44 32" role="img" aria-label="TZ"><g transform="translate(2.7 1) scale(1.8571 1.8667)" clip-path="url(#fc)"><path fill="#6bc8f3" d="M0 0h21v15h-21z"/><path fill="#4e9d5f" d="M0 0L21 0L0 15z"/><path fill="#f9db55" d="M0 11L15.5 0L21 0L21 4L5.5 15L0 15z"/><path fill="#151515" d="M0 12.1L17 0L21 0L21 2.9L4 15L0 15z"/></g></svg><svg style="left:304px;top:88px" viewBox="0 0 44 32" role="img" aria-label="UA"><g transform="translate(2.7 1) scale(1.8571 1.8667)" clip-path="url(#fc)"><path fill="#5597f7" d="M0 0h21v15h-21z"/><path fill="#f9db55" d="M0 7.6h21v7.4h-21z"/></g></svg><svg style="left:380px;top:88px" viewBox="0 0 44 32" role="img" aria-label="UG"><g transform="translate(2.7 1) scale(1.8571 1.8667)" clip-path="url(#fc)"><path fill="#151515" d="M0 0h21v15h-21z"/><path fill="#f9db55" d="M0 2.5h21v12.5h-21z"/><path fill="#e54b43" d="M0 5h21v10h-21z"/><path fill="#151515" d="M0 7.5h21v7.5h-21z"/><path fill="#f9db55" d="M0 10h21v5h-21z"/><path fill="#e54b43" d="M0 12.5h21v2.5h-21z"/><circle cx="10.5" cy="7.5" r="2.7" fill="#fff"/><path fill="#151515" d="M10.2 5.6l.9.3-.5 1.2.9 1.1-.5 1.6h-.5l.2-1.5-1-.9z"/></g></svg><svg style="left:456px;top:88px" viewBox="0 0 44 32" role="img" aria-label="VN"><g transform="translate(2.7 1) scale(1.8571 1.8667)" clip-path="url(#fc)"><path fill="#e54b43" d="M0 0h21v15h-21z"/><path fill="#f9db55" d="M10.5 4.7L11.29 6.61L13.35 6.77L11.78 8.12L12.26 10.13L10.5 9.05L8.74 10.13L9.22 8.12L7.65 6.77L9.71 6.61z"/></g></svg><svg style="left:532px;top:88px" viewBox="0 0 44 32" role="img" aria-label="ZA"><g transform="translate(2.7 1) scale(1.8571 1.8667)" clip-path="url(#fc)"><path fill="#e54b43" d="M0 0h21v15h-21z"/><path fill="#2646b1" d="M0 7.5h21v7.5h-21z"/><path fill="none" stroke="#fff" stroke-width="5" d="M-1 -1L9 7.5L-1 16M9 7.5H22"/><path fill="none" stroke="#4e9d5f" stroke-width="3" d="M-1 -1L9 7.5L-1 16M9 7.5H22"/><path fill="#f9db55" d="M0 2L6.5 7.5L0 13z"/><path fill="#151515" d="M0 3.4L4.9 7.5L0 11.6z"/></g></svg></div>
<label class="t" style="left:1784.36px;top:68.00px;font-size:32px;line-height:40px;letter-spacing:0.806px;color:#161b28;-webkit-text-stroke:0.6px #161b28;">Discount %</label><div class="inp" style="left:1784px;top:127px"><span class="t" style="left:24.00px;top:13.00px;font-size:29px;line-height:36px;letter-spacing:1.717px;color:#161b28;-webkit-text-stroke:0.2px #161b28;">50</span></div><label class="t" style="left:2160.23px;top:68.00px;font-size:32px;line-height:40px;letter-spacing:0.717px;color:#161b28;-webkit-text-stroke:0.6px #161b28;">Coupon code</label><div class="inp" style="left:2160px;top:127px"></div>
</section>
<section class="row" style="top:1362px;height:214px">
<span class="t" style="left:32.00px;top:35.00px;font-size:29px;line-height:36px;letter-spacing:0.578px;color:#6a7790;-webkit-text-stroke:0.3px #6a7790;">Parity group: 0.4-0.5</span>
<label class="t" style="left:1784.36px;top:46.00px;font-size:32px;line-height:40px;letter-spacing:0.806px;color:#161b28;-webkit-text-stroke:0.6px #161b28;">Discount %</label><div class="inp" style="left:1784px;top:105px"></div><label class="t" style="left:2160.23px;top:46.00px;font-size:32px;line-height:40px;letter-spacing:0.717px;color:#161b28;-webkit-text-stroke:0.6px #161b28;">Coupon code</label><div class="inp" style="left:2160px;top:105px"></div>
</section>
</div>
<footer class="foot"><button type="button" class="btn" style="left:2249.3px;top:48px;width:191.8px"><span class="t" style="left:32.55px;top:19.00px;font-size:32px;line-height:40px;letter-spacing:0.507px;color:#161b28;-webkit-text-stroke:1.0px #161b28;">Go back</span></button><button type="button" class="btn dark" style="left:2457.2px;top:48px;width:134.8px"><span class="t" style="left:30.35px;top:19.00px;font-size:32px;line-height:40px;letter-spacing:1.140px;color:#fafafa;-webkit-text-stroke:1.0px #fafafa;">Next</span></button></footer>
</main>
</body>
</html>
